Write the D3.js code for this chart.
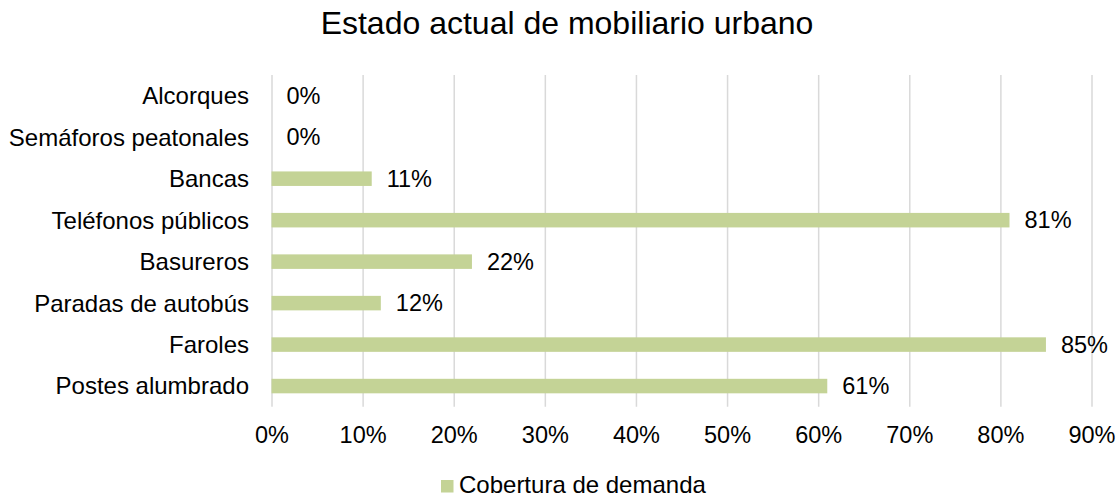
<!DOCTYPE html>
<html>
<head>
<meta charset="utf-8">
<script src="https://cdn.jsdelivr.net/npm/d3@7/dist/d3.min.js"></script>
<style>
  html, body { margin: 0; padding: 0; background: #fff; }
  svg { display: block; font-family: "Liberation Sans", Arial, sans-serif; }
</style>
</head>
<body>
<svg id="chart" width="1119" height="498"></svg>
<script>
const title = "Estado actual de mobiliario urbano";
const categories = ["Alcorques", "Semáforos peatonales", "Bancas", "Teléfonos públicos", "Basureros", "Paradas de autobús", "Faroles", "Postes alumbrado"];
const values = [0, 0, 0.11, 0.81, 0.22, 0.12, 0.85, 0.61];
const valueLabels = ["0%", "0%", "11%", "81%", "22%", "12%", "85%", "61%"];
const tickValues = [0, 0.1, 0.2, 0.3, 0.4, 0.5, 0.6, 0.7, 0.8, 0.9];
const tickLabels = ["0%", "10%", "20%", "30%", "40%", "50%", "60%", "70%", "80%", "90%"];
const seriesName = "Cobertura de demanda";

const barColor = "#c4d396";
const gridColor = "#d9d9d9";
const fontSize = 24;
const numFontSize = 23.5;

const svg = d3.select("#chart");
const plotLeft = 271.5, plotRight = 1091.5, plotTop = 75, plotBottom = 406.8;

const x = d3.scaleLinear().domain([0, 0.9]).range([plotLeft, plotRight]);
const y = d3.scaleBand().domain(categories).range([plotTop, plotBottom]).paddingInner(0.65).paddingOuter(0.325);

// Title
svg.append("text")
  .attr("x", 567).attr("y", 34.3)
  .attr("text-anchor", "middle")
  .attr("font-size", 32)
  .attr("fill", "#000")
  .text(title);

// X axis with gridlines
const xAxis = d3.axisBottom(x)
  .tickValues(tickValues)
  .tickFormat((d, i) => tickLabels[i])
  .tickSizeInner(-(plotBottom - plotTop))
  .tickSizeOuter(0)
  .tickPadding(0);
const gx = svg.append("g").attr("transform", `translate(0,${plotBottom})`).call(xAxis);
gx.select(".domain").remove();
gx.selectAll(".tick line").attr("stroke", gridColor).attr("stroke-width", 1.5);
gx.selectAll(".tick text")
  .attr("y", 36).attr("dy", null)
  .attr("font-size", numFontSize)
  .attr("font-family", "Liberation Sans, Arial, sans-serif")
  .attr("fill", "#000");

// Y axis
const yAxis = d3.axisLeft(y).tickSize(0).tickPadding(22.5);
const gy = svg.append("g").attr("transform", `translate(${plotLeft},0)`).call(yAxis);
gy.select(".domain").remove();
gy.selectAll(".tick text")
  .attr("dy", "0.35em")
  .attr("font-size", fontSize)
  .attr("font-family", "Liberation Sans, Arial, sans-serif")
  .attr("fill", "#000");

// Bars
svg.append("g").selectAll("rect")
  .data(categories)
  .join("rect")
  .attr("x", x(0))
  .attr("y", d => y(d))
  .attr("width", (d, i) => x(values[i]) - x(0))
  .attr("height", y.bandwidth())
  .attr("fill", barColor);

// Data labels
svg.append("g").selectAll("text")
  .data(categories)
  .join("text")
  .attr("x", (d, i) => x(values[i]) + 15)
  .attr("y", d => y(d) + y.bandwidth() / 2)
  .attr("dy", "0.35em")
  .attr("font-size", numFontSize)
  .attr("fill", "#000")
  .text((d, i) => valueLabels[i]);

// Legend
const lg = svg.append("g");
lg.append("rect").attr("x", 441).attr("y", 480).attr("width", 12.5).attr("height", 12.5).attr("fill", barColor);
lg.append("text").attr("x", 459).attr("y", 493).attr("font-size", fontSize).attr("fill", "#000").text(seriesName);
</script>
</body>
</html>
